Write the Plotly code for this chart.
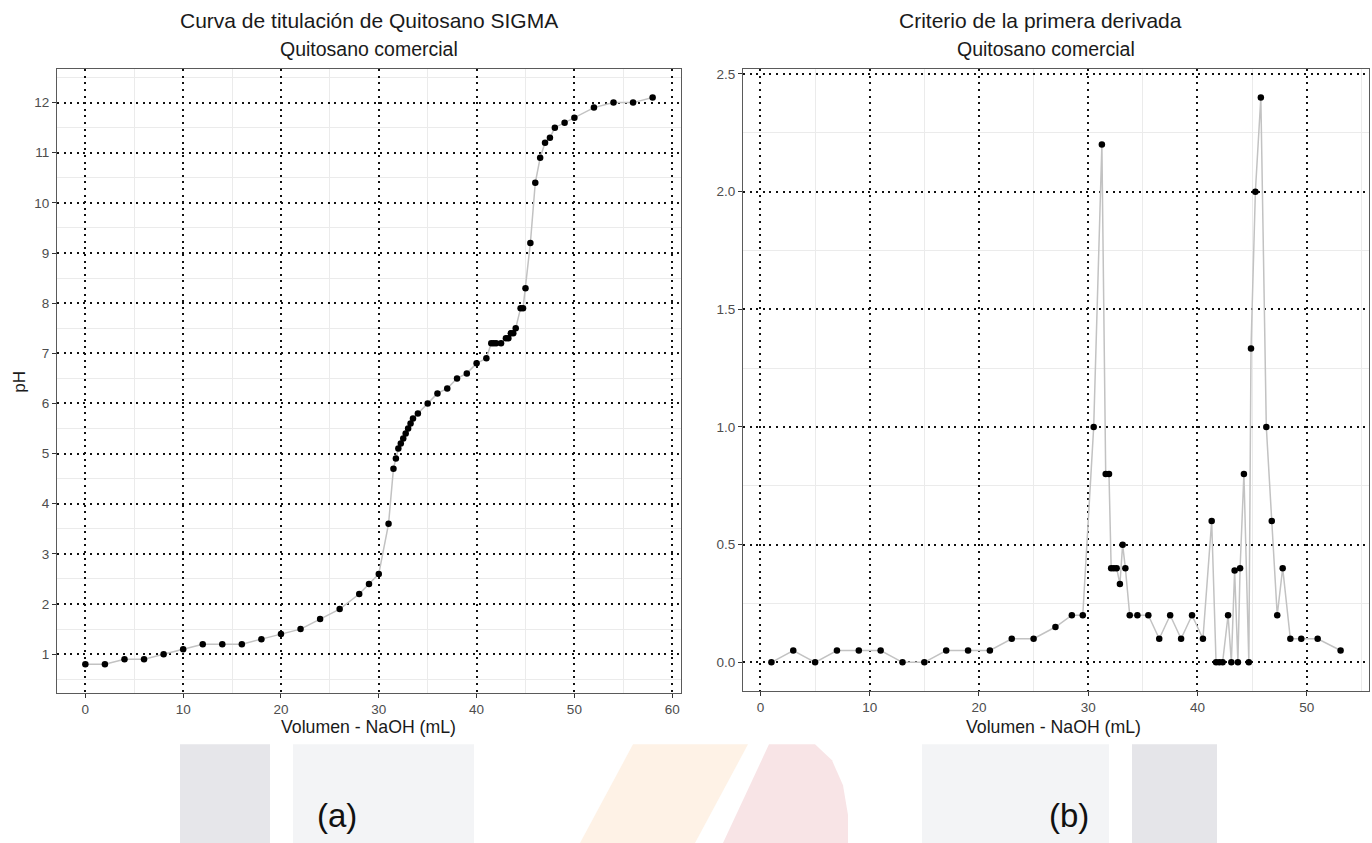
import plotly.graph_objects as go

# ---- Data ----
vol_naoh = [0, 2, 4, 6, 8, 10, 12, 14, 16, 18, 20, 22, 24, 26, 28, 29, 30, 31,
            31.5, 31.75, 32, 32.25, 32.5, 32.75, 33, 33.25, 33.5, 34, 35, 36, 37,
            38, 39, 40, 41, 41.5, 41.75, 42, 42.5, 43, 43.25, 43.5, 43.75, 44,
            44.5, 44.75, 45, 45.5, 46, 46.5, 47, 47.5, 48, 49, 50, 52, 54, 56, 58]
ph = [0.8, 0.8, 0.9, 0.9, 1.0, 1.1, 1.2, 1.2, 1.2, 1.3, 1.4, 1.5, 1.7, 1.9, 2.2,
      2.4, 2.6, 3.6, 4.7, 4.9, 5.1, 5.2, 5.3, 5.4, 5.5, 5.6, 5.7, 5.8, 6.0, 6.2,
      6.3, 6.5, 6.6, 6.8, 6.9, 7.2, 7.2, 7.2, 7.2, 7.3, 7.3, 7.4, 7.4, 7.5, 7.9,
      7.9, 8.3, 9.2, 10.4, 10.9, 11.2, 11.3, 11.5, 11.6, 11.7, 11.9, 12.0, 12.0, 12.1]

vol_mid = [1, 3, 5, 7, 9, 11, 13, 15, 17, 19, 21, 23, 25, 27, 28.5, 29.5, 30.5,
           31.25, 31.6, 31.9, 32.1, 32.35, 32.6, 32.9, 33.15, 33.4, 33.8, 34.5,
           35.5, 36.5, 37.5, 38.5, 39.5, 40.5, 41.3, 41.7, 42.0, 42.3, 42.8, 43.1,
           43.4, 43.7, 43.9, 44.25, 44.7, 44.9, 45.3, 45.8, 46.3, 46.8, 47.3, 47.8,
           48.5, 49.5, 51.0, 53.1]
dph_dv = [0, 0.05, 0, 0.05, 0.05, 0.05, 0, 0, 0.05, 0.05, 0.05, 0.1, 0.1, 0.15,
          0.2, 0.2, 1.0, 2.2, 0.8, 0.8, 0.4, 0.4, 0.4, 0.333, 0.5, 0.4, 0.2, 0.2,
          0.2, 0.1, 0.2, 0.1, 0.2, 0.1, 0.6, 0, 0, 0, 0.2, 0, 0.39, 0, 0.4, 0.8,
          0, 1.333, 2.0, 2.4, 1.0, 0.6, 0.2, 0.4, 0.1, 0.1, 0.1, 0.05]

left_title = "Curva de titulación de Quitosano SIGMA"
right_title = "Criterio de la primera derivada"
subtitle = "Quitosano comercial"
x_title = "Volumen - NaOH (mL)"
y_title = "pH"

W, H = 1372, 843
FONT = "Liberation Sans, Arial, sans-serif"


def px(x):
    return x / W


def py(y):
    return 1 - y / H


fig = go.Figure()
line_style = dict(color="#c2c2c2", width=1.5)
marker_style = dict(color="black", size=6.5)
fig.add_trace(go.Scatter(x=vol_naoh, y=ph, mode="lines+markers", line=line_style,
                         marker=marker_style, xaxis="x", yaxis="y", showlegend=False))
fig.add_trace(go.Scatter(x=vol_mid, y=dph_dv, mode="lines+markers", line=line_style,
                         marker=marker_style, xaxis="x2", yaxis="y2", showlegend=False))

common = dict(
    showline=True, linecolor="#5a5a5a", linewidth=1, mirror=True,
    ticks="outside", ticklen=4, tickwidth=1, tickcolor="#333333",
    tickfont=dict(family=FONT, size=13.5, color="#4d4d4d"),
    zeroline=False,
    showgrid=True, gridcolor="#111111", gridwidth=1.6, griddash="2px,4.6px",
)
minor_style = dict(showgrid=True, gridcolor="#ebebeb", gridwidth=1, griddash="solid",
                   ticks="")

fig.update_layout(
    width=W, height=H,
    margin=dict(l=0, r=0, t=0, b=0),
    paper_bgcolor="white", plot_bgcolor="white",
    font=dict(family=FONT),
    xaxis=dict(domain=[px(57), px(681)], range=[-2.9, 60.9], tick0=0, dtick=10,
               anchor="y", minor=dict(tick0=5, dtick=10, **minor_style), **common),
    yaxis=dict(domain=[py(692), py(66.5)], range=[0.235, 12.665], tick0=0, dtick=1,
               anchor="x", minor=dict(tick0=0.5, dtick=1, **minor_style), **common),
    xaxis2=dict(domain=[px(743), px(1369)], range=[-1.6, 55.7], tick0=0, dtick=10,
                anchor="y2", minor=dict(tick0=5, dtick=10, **minor_style), **common),
    yaxis2=dict(domain=[py(690), py(66.5)], range=[-0.12, 2.52], tick0=0, dtick=0.5,
                tickformat=".1f", anchor="x2",
                minor=dict(tick0=0.25, dtick=0.5, **minor_style), **common),
)

ann = []
def add_text(x, y, text, size, color="#1a1a1a", angle=0):
    ann.append(dict(x=px(x), y=py(y), xref="paper", yref="paper", text=text,
                    showarrow=False, xanchor="center", yanchor="middle",
                    textangle=angle, font=dict(family=FONT, size=size, color=color)))

add_text(369, 18, left_title, 21)
add_text(369, 46, subtitle, 19.5)
add_text(1040, 18, right_title, 21)
add_text(1046, 46, subtitle, 19.5)
add_text(369, 727, x_title, 17.7)
add_text(1053, 727, x_title, 17.7)
add_text(20, 380, y_title, 17, angle=-90)
add_text(337, 815, "(a)", 33, color="#111111")
add_text(1069, 815, "(b)", 33, color="#111111")
fig.update_layout(annotations=ann)

# decorative background band at the bottom
shapes = []
def rect(x0, x1, color):
    shapes.append(dict(type="rect", xref="paper", yref="paper", x0=px(x0), x1=px(x1),
                       y0=py(843), y1=py(744), fillcolor=color, line=dict(width=0),
                       layer="below"))

def poly(points, color):
    path = "M " + " L ".join(f"{px(a)},{py(b)}" for a, b in points) + " Z"
    shapes.append(dict(type="path", xref="paper", yref="paper", path=path,
                       fillcolor=color, line=dict(width=0), layer="below"))

rect(180, 270, "#e6e6ea")
rect(293, 474, "#f3f4f6")
rect(922, 1109, "#f3f4f6")
rect(1132, 1217, "#e5e5e9")
poly([(633, 744), (748, 744), (695, 843), (580, 843)], "#fef2e6")
poly([(769, 744), (815, 744), (832, 760), (843, 785), (848, 815), (848, 843), (723, 843)],
     "#f8e4e6")
fig.update_layout(shapes=shapes)

fig.write_html("out.html",
               config={"displayModeBar": False},
               post_script="document.body.style.margin='0px';"
                           "document.body.style.overflow='hidden';")
